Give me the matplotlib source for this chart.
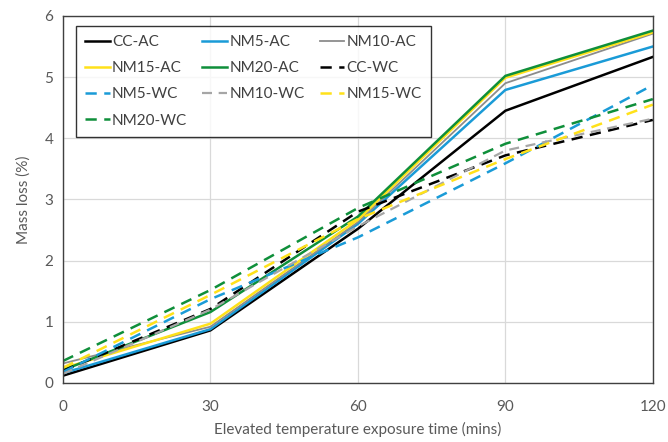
import matplotlib
matplotlib.use("Agg")
import matplotlib.pyplot as plt

# exposure times (mins)
tiempo = [0, 30, 60, 90, 120]

# mass loss (%) - air cooled
cc_ac = [0.12, 0.86, 2.52, 4.45, 5.33]
nm5_ac = [0.16, 0.88, 2.60, 4.79, 5.50]
nm10_ac = [0.32, 0.92, 2.63, 4.90, 5.71]
nm15_ac = [0.24, 0.97, 2.67, 4.99, 5.73]
nm20_ac = [0.21, 1.16, 2.72, 5.02, 5.76]

# mass loss (%) - water cooled
cc_wc = [0.20, 1.21, 2.80, 3.72, 4.30]
nm5_wc = [0.18, 1.37, 2.38, 3.59, 4.87]
nm10_wc = [0.15, 1.20, 2.56, 3.80, 4.32]
nm15_wc = [0.25, 1.44, 2.68, 3.66, 4.55]
nm20_wc = [0.36, 1.52, 2.86, 3.91, 4.64]

etiquetas = ["CC-AC", "NM5-AC", "NM10-AC", "NM15-AC", "NM20-AC",
             "CC-WC", "NM5-WC", "NM10-WC", "NM15-WC", "NM20-WC"]

plt.rcParams['font.family'] = ['Lato', 'DejaVu Sans']

fig = plt.figure(figsize=(6.68, 4.42), dpi=100)
ax = fig.add_axes([0.0943, 0.1335, 0.883, 0.8305])

negro = "#000000"
azul = "#1a9bd7"
gris = "#8c8c8c"
amarillo = "#ffe11a"
verde = "#0f8f3a"

estilos = [
    (cc_ac, negro, "-", 1.8),
    (nm5_ac, azul, "-", 1.8),
    (nm10_ac, gris, "-", 1.3),
    (nm15_ac, amarillo, "-", 1.8),
    (nm20_ac, verde, "-", 1.8),
    (cc_wc, negro, "--", 1.8),
    (nm5_wc, azul, "--", 1.8),
    (nm10_wc, "#a6a6a6", "--", 1.6),
    (nm15_wc, amarillo, "--", 1.8),
    (nm20_wc, verde, "--", 1.8),
]

lineas = []
for (datos, color, ls, lw), nombre in zip(estilos, etiquetas):
    l, = ax.plot(tiempo, datos, color=color, linestyle=ls, linewidth=lw, label=nombre)
    if ls == "--":
        l.set_dashes((4.5, 3))
    lineas.append(l)

ax.set_xlim(0, 120)
ax.set_ylim(0, 6)
ax.set_xticks(tiempo)
ax.set_yticks(range(7))
ax.grid(True, color="#d9d9d9", linewidth=0.9)
ax.set_axisbelow(True)
ax.tick_params(length=0, labelsize=11, labelcolor="#595959", pad=7)
ax.tick_params(axis="x", pad=12)
for s in ax.spines.values():
    s.set_color("#404040")
    s.set_linewidth(1.0)

ax.set_xlabel("Elevated temperature exposure time (mins)", fontsize=11, color="#595959", labelpad=6)
ax.set_ylabel("Mass loss (%)", fontsize=11, color="#595959", labelpad=10)

# legend filled row by row (3 columns)
orden = [0, 3, 6, 9, 1, 4, 7, 2, 5, 8]
leg = ax.legend([lineas[i] for i in orden], [etiquetas[i] for i in orden],
                ncol=3, loc="upper left", bbox_to_anchor=(0.022, 0.973),
                borderaxespad=0, fontsize=11, frameon=True, fancybox=False,
                handlelength=1.6, handletextpad=0.15, columnspacing=1.0,
                labelspacing=0.8, borderpad=0.6)
leg.get_frame().set_edgecolor("#000000")
leg.get_frame().set_linewidth(1.0)
for t in leg.get_texts():
    t.set_color("#404040")

fig.savefig("out.png", dpi=100)
